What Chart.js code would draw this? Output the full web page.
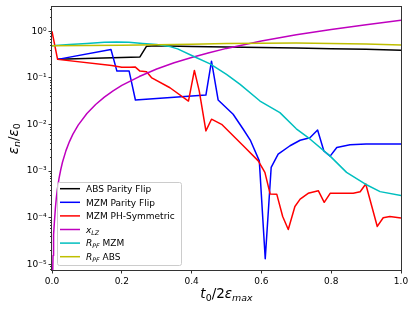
<!DOCTYPE html>
<html>
<head>
<meta charset="utf-8">
<script src="https://cdn.jsdelivr.net/npm/chart.js@4/dist/chart.umd.min.js"></script>
<style>
html,body{margin:0;padding:0;background:#fff;}
#wrap{width:415px;height:310px;}
</style>
</head>
<body>
<div id="wrap"><canvas id="c" width="415" height="310"></canvas></div>
<script>
// ---------------- data ----------------
const absX  = [0.016, 0.252, 0.271, 0.30, 0.40, 0.50, 0.60, 0.70, 0.80, 0.90, 1.0];
const absY  = [0.25, 0.282, 0.48, 0.49, 0.47, 0.46, 0.45, 0.44, 0.425, 0.41, 0.39];

const mzmPfX = [0.016, 0.169, 0.186, 0.221, 0.239, 0.441, 0.457, 0.476, 0.519, 0.548, 0.569, 0.594, 0.611, 0.628, 0.648, 0.682, 0.711, 0.739, 0.761, 0.779, 0.797, 0.816, 0.854, 0.90, 1.0];
const mzmPfY = [0.25, 0.406, 0.14, 0.14, 0.0336, 0.0429, 0.229, 0.0336, 0.0166, 0.0079, 0.0045, 0.00166, 1.32e-5, 0.0012, 0.00232, 0.0035, 0.0046, 0.0052, 0.0076, 0.0027, 0.0021, 0.0032, 0.00366, 0.0038, 0.0038];

const mzmPhX = [0, 0.016, 0.171, 0.20, 0.223, 0.238, 0.252, 0.271, 0.286, 0.338, 0.391, 0.408, 0.422, 0.441, 0.457, 0.486, 0.553, 0.591, 0.61, 0.625, 0.644, 0.661, 0.677, 0.696, 0.711, 0.734, 0.763, 0.78, 0.797, 0.863, 0.883, 0.899, 0.932, 0.949, 0.968, 1.0];
const mzmPhY = [1.0, 0.25, 0.185, 0.17, 0.17, 0.172, 0.14, 0.135, 0.10, 0.0615, 0.0319, 0.145, 0.052, 0.0073, 0.013, 0.0101, 0.0032, 0.00166, 0.00094, 0.000324, 0.00032, 1.06e-4, 5.6e-5, 1.74e-4, 2.5e-4, 3.34e-4, 3.8e-4, 2.14e-4, 3.34e-4, 3.34e-4, 3.6e-4, 5.3e-4, 6.5e-5, 1.0e-4, 1.06e-4, 9.8e-5];

const xlzX = [0.002, 0.003, 0.004, 0.005, 0.007, 0.01, 0.0125, 0.015, 0.02, 0.025, 0.03, 0.04, 0.05, 0.06, 0.075, 0.1, 0.125, 0.15, 0.175, 0.2, 0.25, 0.3, 0.35, 0.4, 0.45, 0.5, 0.6, 0.7, 0.8, 0.9, 1.0];
const xlzY = [7e-6, 1.55e-5, 2.8e-5, 4.3e-5, 8.4e-5, 1.7e-4, 2.7e-4, 3.9e-4, 6.9e-4, 1.07e-3, 1.55e-3, 2.75e-3, 4.3e-3, 6.2e-3, 9.7e-3, 0.0172, 0.0269, 0.0387, 0.0527, 0.069, 0.107, 0.155, 0.211, 0.275, 0.348, 0.43, 0.62, 0.84, 1.10, 1.39, 1.72];

const rpfMzmX = [0, 0.05, 0.1, 0.15, 0.185, 0.22, 0.26, 0.30, 0.338, 0.36, 0.405, 0.453, 0.5, 0.539, 0.596, 0.653, 0.70, 0.739, 0.797, 0.844, 0.897, 0.94, 1.0];
const rpfMzmY = [0.49, 0.52, 0.55, 0.58, 0.59, 0.58, 0.55, 0.52, 0.47, 0.42, 0.292, 0.20, 0.119, 0.0725, 0.0319, 0.018, 0.0081, 0.0049, 0.0021, 0.00094, 0.00053, 0.000363, 0.000298];

const rpfAbsX = [0, 0.1, 0.2, 0.3, 0.4, 0.5, 0.6, 0.7, 0.8, 0.9, 1.0];
const rpfAbsY = [0.49, 0.495, 0.505, 0.515, 0.53, 0.545, 0.555, 0.56, 0.55, 0.535, 0.51];

const seriesNames = ['ABS Parity Flip', 'MZM Parity Flip', 'MZM PH-Symmetric', 'x_LZ', 'R_PF MZM', 'R_PF ABS'];
const xTicks = [0, 0.2, 0.4, 0.6, 0.8, 1.0];
const xTickLabels = ['0.0', '0.2', '0.4', '0.6', '0.8', '1.0'];
const yTicks = [1e-5, 1e-4, 1e-3, 1e-2, 1e-1, 1e0];
const yTickLabels = ['10\u207B\u2075', '10\u207B\u2074', '10\u207B\u00B3', '10\u207B\u00B2', '10\u207B\u00B9', '10\u2070'];
const yMin = 7.55e-6, yMax = 3.26;

// ---------------- styles ----------------
const colors = ['#000000', '#0000ff', '#ff0000', '#bf00bf', '#00bfbf', '#bfbf00'];
const FAM = '"DejaVu Sans", sans-serif';

const pairs = [[absX, absY], [mzmPfX, mzmPfY], [mzmPhX, mzmPhY], [xlzX, xlzY], [rpfMzmX, rpfMzmY], [rpfAbsX, rpfAbsY]];
const datasets = pairs.map((p, i) => ({
  label: seriesNames[i],
  data: p[0].map((x, j) => ({x: x, y: p[1][j]})),
  borderColor: colors[i],
  backgroundColor: colors[i],
  borderWidth: 1.5,
  pointRadius: 0,
  tension: 0,
  fill: false,
  borderJoinStyle: 'round',
  order: 5 - i
}));

// rich text helper (italic + subscripts)
function richWidth(ctx, segs, size) {
  let w = 0;
  segs.forEach(s => {
    const sz = s.sub ? size * 0.7 : size;
    ctx.font = (s.it ? 'italic ' : '') + sz + 'px ' + FAM;
    s._w = ctx.measureText(s.t).width;
    w += s._w;
  });
  return w;
}
function drawRich(ctx, segs, x, y, size) {
  richWidth(ctx, segs, size);
  let cx = x;
  ctx.textBaseline = 'alphabetic';
  ctx.textAlign = 'left';
  segs.forEach(s => {
    const sz = s.sub ? size * 0.7 : size;
    ctx.font = (s.it ? 'italic ' : '') + sz + 'px ' + FAM;
    ctx.fillText(s.t, cx, y + (s.sub ? size * 0.2 : 0));
    cx += s._w;
  });
}

const legendSegs = [
  [{t: 'ABS Parity Flip'}],
  [{t: 'MZM Parity Flip'}],
  [{t: 'MZM PH-Symmetric'}],
  [{t: 'x', it: true}, {t: 'LZ', it: true, sub: true}],
  [{t: 'R', it: true}, {t: 'PF', it: true, sub: true}, {t: ' MZM'}],
  [{t: 'R', it: true}, {t: 'PF', it: true, sub: true}, {t: ' ABS'}]
];

const decor = {
  id: 'decor',
  afterDraw(chart) {
    const ctx = chart.ctx;
    const a = chart.chartArea;
    const ys = chart.scales.y;
    ctx.save();
    // minor ticks on log axis
    ctx.strokeStyle = '#000';
    ctx.lineWidth = 0.8;
    for (let k = -6; k <= 0; k++) {
      for (let m = 2; m <= 9; m++) {
        const v = m * Math.pow(10, k);
        if (v < yMin || v > yMax) continue;
        const py = Math.round(ys.getPixelForValue(v)) + 0.5;
        ctx.beginPath();
        ctx.moveTo(a.left, py);
        ctx.lineTo(a.left - 2, py);
        ctx.stroke();
      }
    }
    // frame
    ctx.strokeStyle = '#333';
    ctx.lineWidth = 1;
    ctx.strokeRect(Math.round(a.left) - 0.5, Math.round(a.top) - 0.5, Math.round(a.right - a.left) + 1, Math.round(a.bottom - a.top) + 1);

    // legend
    const lx = 57, ly = 182, lw = 124, lh = 83;
    ctx.fillStyle = 'rgba(255,255,255,0.8)';
    ctx.strokeStyle = '#cccccc';
    ctx.lineWidth = 1;
    ctx.beginPath();
    if (ctx.roundRect) ctx.roundRect(lx + 0.5, ly + 0.5, lw, lh, 2); else ctx.rect(lx + 0.5, ly + 0.5, lw, lh);
    ctx.fill();
    ctx.stroke();
    legendSegs.forEach((segs, i) => {
      const cy = 188.7 + i * 13.6;
      ctx.strokeStyle = colors[i];
      ctx.lineWidth = 1.5;
      ctx.beginPath();
      ctx.moveTo(60, cy);
      ctx.lineTo(80, cy);
      ctx.stroke();
      ctx.fillStyle = '#000';
      drawRich(ctx, segs, 86, cy + 3.3, 9);
    });

    // x-axis title
    ctx.fillStyle = '#000';
    const xt = [{t: 't', it: true}, {t: '0', sub: true}, {t: '/2'}, {t: '\u03B5', it: true}, {t: 'max', it: true, sub: true}];
    const xs = 13.5;
    const xw = richWidth(ctx, xt, xs);
    drawRich(ctx, xt, (a.left + a.right) / 2 - xw / 2, 298, xs);

    // y-axis title (rotated)
    const yt = [{t: '\u03B5', it: true}, {t: 'n', it: true, sub: true}, {t: '/'}, {t: '\u03B5', it: true}, {t: '0', sub: true}];
    const yw = richWidth(ctx, yt, xs);
    ctx.translate(17.5, (a.top + a.bottom) / 2);
    ctx.rotate(-Math.PI / 2);
    drawRich(ctx, yt, -yw / 2, 0, xs);
    ctx.restore();
  }
};

new Chart(document.getElementById('c'), {
  type: 'line',
  data: {datasets: datasets},
  plugins: [decor],
  options: {
    responsive: false,
    animation: false,
    events: [],
    layout: {padding: {left: 0, right: 14, top: 6, bottom: 0}},
    plugins: {legend: {display: false}, tooltip: {enabled: false}},
    scales: {
      x: {
        type: 'linear', min: 0, max: 1,
        afterFit(s) { s.height = 40; },
        afterBuildTicks(s) { s.ticks = xTicks.map(v => ({value: v})); },
        ticks: {
          callback: (v, i) => xTickLabels[i],
          font: {family: FAM, size: 9}, color: '#000', padding: 2.5,
          maxRotation: 0, autoSkip: false
        },
        grid: {display: true, drawOnChartArea: false, drawTicks: true, tickLength: 3.5, tickColor: '#000', tickWidth: 0.8},
        border: {display: false}
      },
      y: {
        type: 'logarithmic', min: yMin, max: yMax,
        afterFit(s) { s.width = 52; },
        afterBuildTicks(s) { s.ticks = yTicks.map(v => ({value: v})); },
        ticks: {
          callback: (v, i) => yTickLabels[i],
          font: {family: FAM, size: 9}, color: '#000', padding: 2,
          autoSkip: false
        },
        grid: {display: true, drawOnChartArea: false, drawTicks: true, tickLength: 3.5, tickColor: '#000', tickWidth: 0.8},
        border: {display: false}
      }
    }
  }
});
</script>
</body>
</html>
